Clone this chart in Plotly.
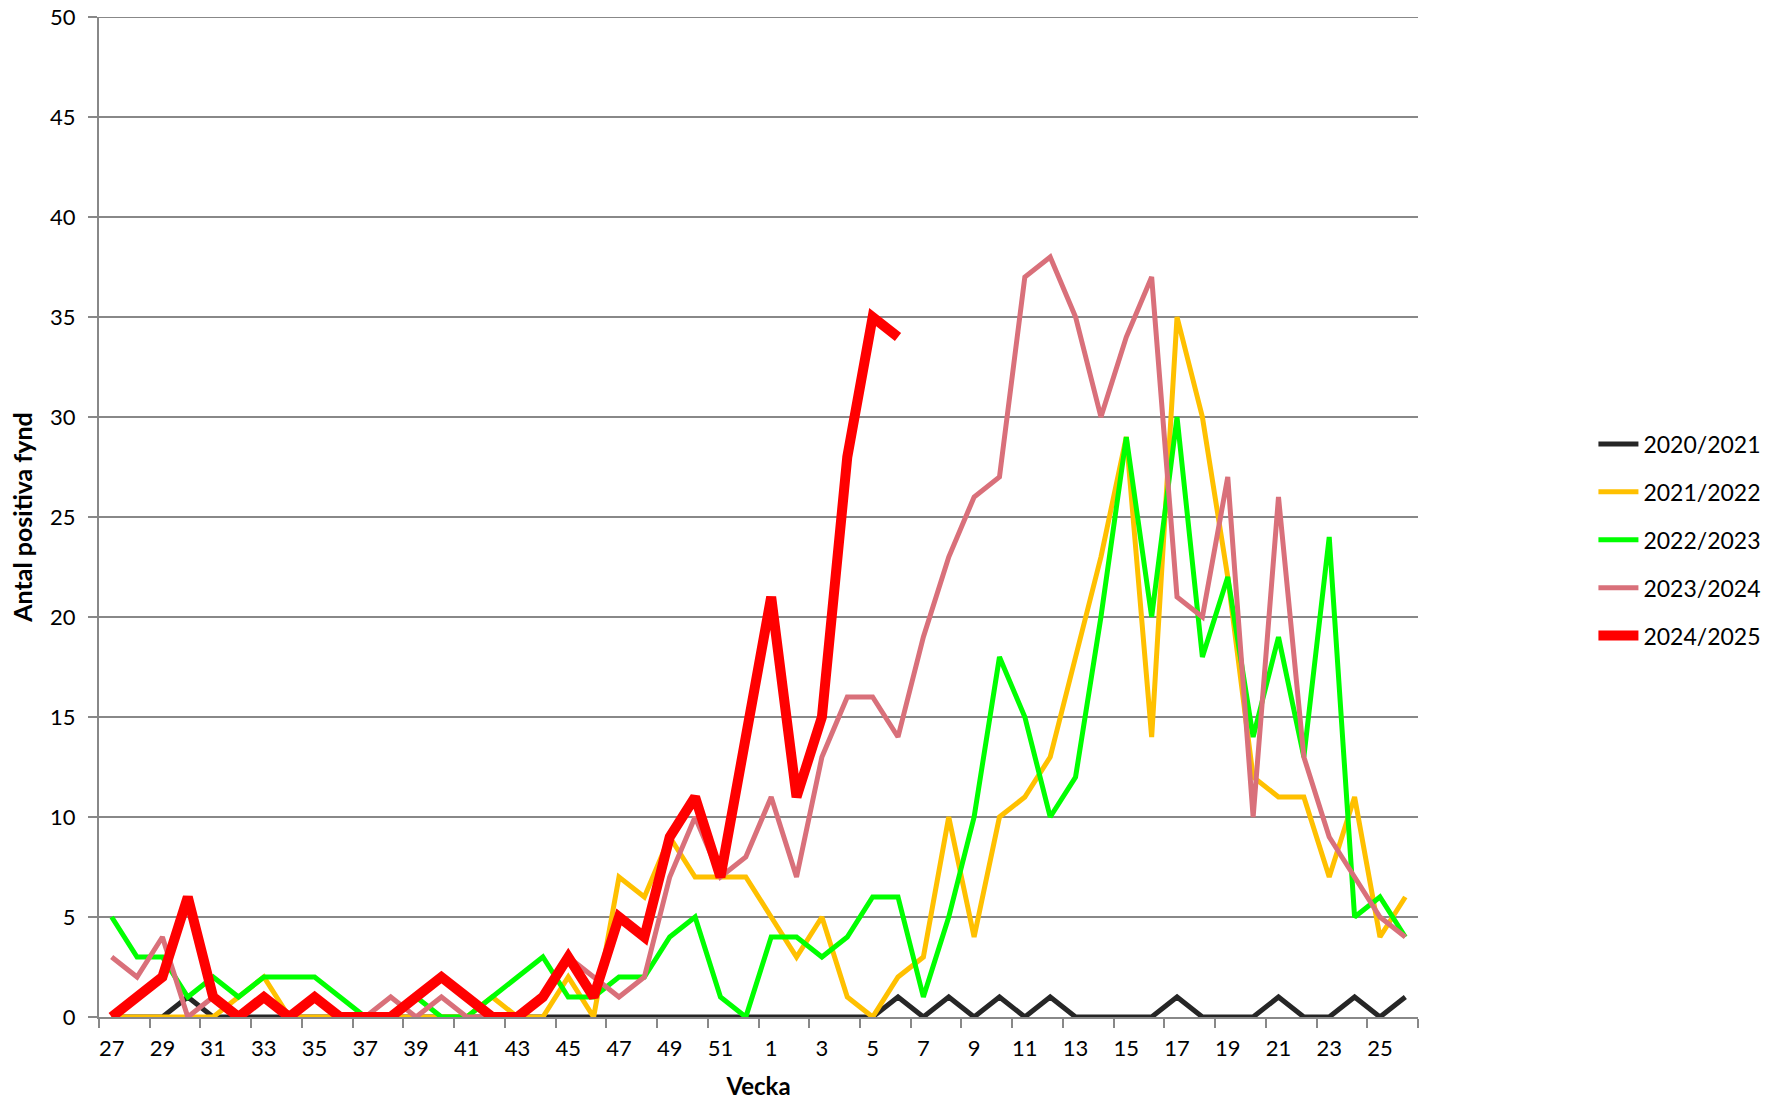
import plotly.graph_objects as go

weeks = [str(w) for w in list(range(27, 53)) + list(range(1, 27))]

s2020_2021 = [0, 0, 0, 1, 0, 0, 0, 0, 0, 0, 0, 0, 0, 0, 0, 0, 0, 0, 0, 0, 0, 0, 0, 0, 0, 0,
              0, 0, 0, 0, 0, 1, 0, 1, 0, 1, 0, 1, 0, 0, 0, 0, 1, 0, 0, 0, 1, 0, 0, 1, 0, 1]
s2021_2022 = [0, 0, 0, 0, 0, 1, 2, 0, 0, 0, 0, 0, 0, 0, 0, 1, 0, 0, 2, 0, 7, 6, 9, 7, 7, 7,
              5, 3, 5, 1, 0, 2, 3, 10, 4, 10, 11, 13, 18, 23, 29, 14, 35, 30, 22, 12, 11, 11, 7, 11, 4, 6]
s2022_2023 = [5, 3, 3, 1, 2, 1, 2, 2, 2, 1, 0, 0, 1, 0, 0, 1, 2, 3, 1, 1, 2, 2, 4, 5, 1, 0,
              4, 4, 3, 4, 6, 6, 1, 5, 10, 18, 15, 10, 12, 20, 29, 20, 30, 18, 22, 14, 19, 13, 24, 5, 6, 4]
s2023_2024 = [3, 2, 4, 0, 1, 0, 1, 0, 1, 0, 0, 1, 0, 1, 0, 0, 0, 1, 3, 2, 1, 2, 7, 10, 7, 8,
              11, 7, 13, 16, 16, 14, 19, 23, 26, 27, 37, 38, 35, 30, 34, 37, 21, 20, 27, 10, 26, 13, 9, 7, 5, 4]
s2024_2025 = [0, 1, 2, 6, 1, 0, 1, 0, 1, 0, 0, 0, 1, 2, 1, 0, 0, 1, 3, 1, 5, 4, 9, 11, 7, 14,
              21, 11, 15, 28, 35, 34] + [None] * 20

series_names = ["2020/2021", "2021/2022", "2022/2023", "2023/2024", "2024/2025"]
series_values = [s2020_2021, s2021_2022, s2022_2023, s2023_2024, s2024_2025]
colors = ["#262626", "#FFC000", "#00FF00", "#D9707A", "#FF0000"]
widths = [5, 5, 5, 5, 10]

FONT = "Lato"
x_idx = list(range(len(weeks)))
Y_MAX = 50

fig = go.Figure()
for name, vals, col, w in zip(series_names, series_values, colors, widths):
    fig.add_trace(go.Scatter(
        x=x_idx, y=vals, mode="lines", name=name, legendgroup=name,
        line=dict(color=col, width=w, shape="linear"),
        connectgaps=False,
    ))

grid = "#888888"
# top gridline at the upper edge of the value axis (Plotly hides the edge gridline)
fig.add_shape(type="line", xref="x domain", yref="y", x0=0, x1=1, y0=Y_MAX, y1=Y_MAX,
              line=dict(color=grid, width=2), layer="below")
fig.add_shape(type="line", xref="paper", yref="y", x0=-9 / 1319, x1=0, y0=Y_MAX, y1=Y_MAX,
              line=dict(color=grid, width=2), layer="below")

fig.update_layout(
    width=1768, height=1105,
    margin=dict(l=99, r=350, t=17, b=88, autoexpand=False),
    paper_bgcolor="white", plot_bgcolor="white",
    font=dict(family=FONT, size=22, color="black"),
    showlegend=True,
    legend=dict(
        x=1.133, xanchor="left", y=0.477, yanchor="middle",
        font=dict(family=FONT, size=23, color="black"),
        tracegroupgap=15, itemwidth=40, bgcolor="rgba(0,0,0,0)",
    ),
    xaxis=dict(
        range=[-0.5, 51.5],
        automargin=False,
        tickmode="array",
        tickvals=x_idx[::2],
        ticktext=weeks[::2],
        ticks="", showgrid=False, zeroline=False,
        showline=True, linecolor=grid, linewidth=2,
        ticklabelstandoff=11,
        tickfont=dict(family=FONT, size=22, color="black"),
        minor=dict(tickmode="array", tickvals=[i - 0.5 for i in range(0, 53, 2)],
                   ticks="outside", ticklen=9, tickwidth=2, tickcolor=grid, showgrid=False),
        title=dict(text="<b>Vecka</b>", font=dict(family=FONT, size=24, color="black"), standoff=18),
    ),
    yaxis=dict(
        range=[0, Y_MAX], tickmode="linear", tick0=0, dtick=5,
        automargin=False,
        ticklabeloverflow="allow",
        showgrid=True, gridcolor=grid, gridwidth=2,
        zeroline=False, showline=True, linecolor=grid, linewidth=2,
        ticks="outside", ticklen=9, tickwidth=2, tickcolor=grid,
        ticklabelstandoff=8,
        tickfont=dict(family=FONT, size=22, color="black"),
        title=dict(text="<b>Antal positiva fynd</b>", font=dict(family=FONT, size=25, color="black"), standoff=10),
    ),
)

fig.write_html("out.html", config={"displayModeBar": False},
               post_script="document.body.style.margin='0';document.body.style.overflow='hidden';")
